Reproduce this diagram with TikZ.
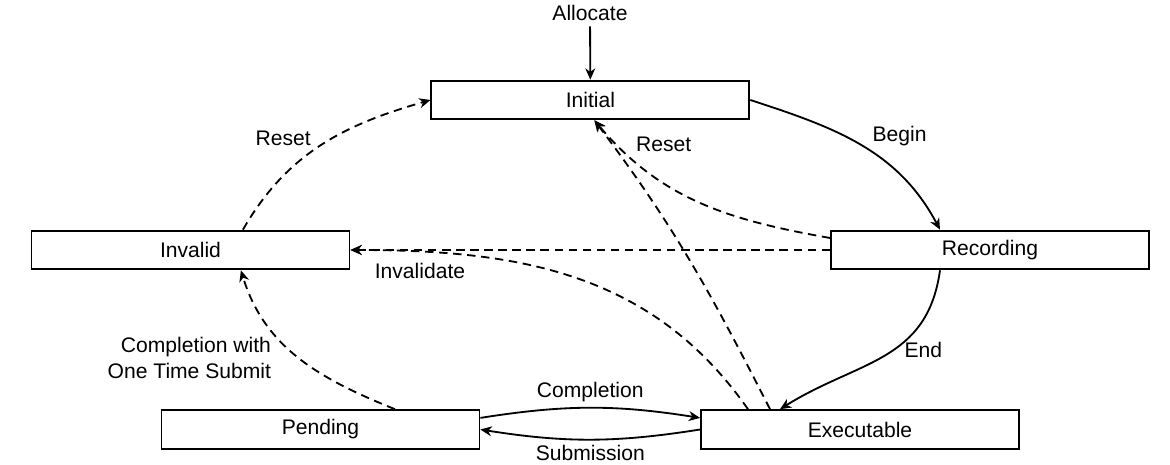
\documentclass[tikz,border=0pt]{standalone}
\usepackage{fontspec}
\setmainfont{Liberation Sans}
\usetikzlibrary{arrows.meta}

\tikzset{
    statebox/.style={draw, rectangle, minimum width=7.95cm, minimum height=0.97cm, inner sep=0pt},
    dashedline/.style={dash pattern=on 6pt off 4pt}
}

\begin{document}
\begin{tikzpicture}[line width=1.3pt, >={Stealth[length=8pt,width=7pt,inset=2.5pt]},
    font=\fontsize{15}{18.5}\selectfont]

    \useasboundingbox (0,0) rectangle (29.25,11.6);

    \node (alloc) at (14.75,11.275) {Allocate};
    \node[statebox] (init) at (14.76,9.1) {Initial};
    \node[statebox] (rec) at (24.75,5.35) {Recording};
    \node[statebox] (inv) at (4.7625,5.35) {Invalid};
    \node[statebox] (pend) at (8.0125,0.8625) {Pending};
    \node[statebox] (exec) at (21.5,0.8625) {Executable};

    \draw[->] (alloc) -- (init);
    \draw[->] (init.east) to[out=-18, in=118] node[pos=0.53, anchor=south west, yshift=-0.05cm] {Begin} ([xshift=-1.25cm]rec.north);
    \draw[->] ([xshift=-1.25cm]rec.south) to[out=-98, in=32, looseness=1.12] node[pos=0.45, anchor=west, xshift=0.15cm] {End} ([xshift=-2cm]exec.north);
    \draw[->] ([yshift=0.29cm]pend.east) to[out=9, in=171] node[above] {Completion} ([yshift=0.29cm]exec.west);
    \draw[->] (exec.west) to[out=-171, in=-9] node[below] {Submission} (pend.east);

    \draw[->, dashedline] (rec.west) -- node[pos=0.855, below, yshift=-0.18cm] {Invalidate} (inv.east);
    \draw[->, dashedline] ([yshift=0.3cm]rec.west) to[out=170, in=-50] node[pos=0.82, anchor=south west] {Reset} ([xshift=0.1cm]init.south);
    \draw[->, dashedline] ([xshift=-2.25cm]exec.north) to[out=117, in=-53] ([xshift=0.1cm]init.south);
    \draw[->, dashedline] ([xshift=-2.8cm]exec.north) to[out=125, in=0] (inv.east);
    \draw[->, dashedline] ([xshift=1.31cm]inv.north) to[out=60, in=-164] node[pos=0.45, anchor=south east, xshift=0.1cm] {Reset} (init.west);
    \draw[->, dashedline] ([xshift=1.86cm]pend.north) to[out=158, in=-73] node[pos=0.5, anchor=east, xshift=-0.55cm, align=right] {Completion with\\One Time Submit} ([xshift=1.26cm]inv.south);
\end{tikzpicture}
\end{document}
